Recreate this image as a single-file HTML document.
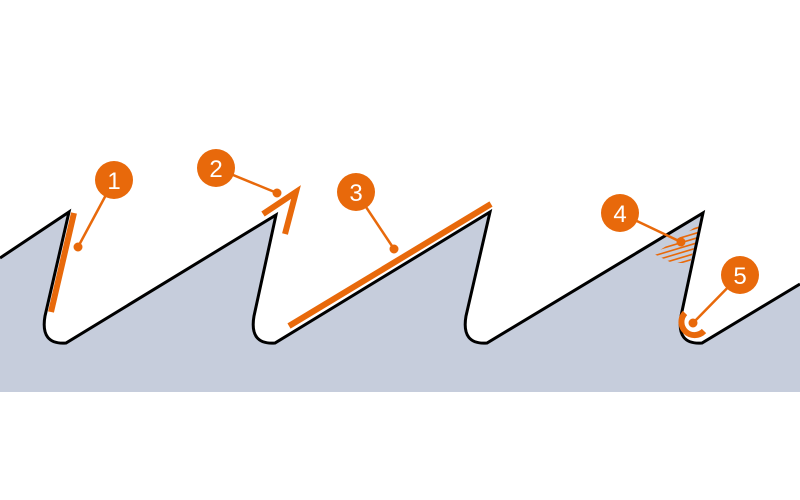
<!DOCTYPE html>
<html><head><meta charset="utf-8"><style>
html,body{margin:0;padding:0;background:#fff;width:800px;height:500px;overflow:hidden}
svg{display:block}
text{font-family:"Liberation Sans","DejaVu Sans",sans-serif;font-size:24px;fill:#fff;text-anchor:middle}
</style></head><body>
<svg width="800" height="500" viewBox="0 0 800 500">
<defs><clipPath id="c4"><polygon points="654,254 700,224 690,263 672,263"/></clipPath></defs>
<path d="M0,258 L69,212 L45,316 Q40,345 66,343 L276,215 L254,316 Q249,345 275,343 L490,212 L466,316 Q461,345 487,343 L703,213 L681,316 Q676,345 702,343 L800,284 L800,392 L0,392 Z" fill="#c6cddc"/>
<g stroke="#e8690b" fill="#e8690b">
<g clip-path="url(#c4)" stroke-width="1.6">
<line x1="640" y1="240" x2="720" y2="216"/><line x1="640" y1="245" x2="720" y2="221"/><line x1="640" y1="250" x2="720" y2="226"/><line x1="640" y1="255" x2="720" y2="231"/><line x1="640" y1="260" x2="720" y2="236"/><line x1="640" y1="265" x2="720" y2="241"/><line x1="640" y1="270" x2="720" y2="246"/><line x1="640" y1="275" x2="720" y2="251"/><line x1="640" y1="280" x2="720" y2="256"/><line x1="640" y1="285" x2="720" y2="261"/><line x1="640" y1="290" x2="720" y2="266"/>
</g>
</g>
<path d="M0,258 L69,212 L45,316 Q40,345 66,343 L276,215 L254,316 Q249,345 275,343 L490,212 L466,316 Q461,345 487,343 L703,213 L681,316 Q676,345 702,343 L800,284" fill="none" stroke="#000" stroke-width="3" stroke-linejoin="miter"/>
<g stroke="#e8690b" fill="#e8690b">
<line x1="74" y1="213" x2="51" y2="312" stroke-width="6"/>
<line x1="114" y1="180" x2="78" y2="247" stroke-width="2.5"/><circle cx="78" cy="247" r="4"/>
<polyline points="263,214 296,192 285,234" fill="none" stroke-width="6"/>
<line x1="216" y1="168" x2="277" y2="193" stroke-width="2.5"/><circle cx="277" cy="193" r="4"/>
<line x1="289" y1="326" x2="491" y2="204" stroke-width="6"/>
<line x1="356" y1="192" x2="394" y2="249" stroke-width="2.5"/><circle cx="394" cy="249" r="4"/>
<line x1="620" y1="213" x2="681" y2="242" stroke-width="2.5"/><circle cx="681" cy="242" r="4"/>
<path d="M685,313 A11,11 0 0 0 704,331" fill="none" stroke-width="6"/>
<line x1="740" y1="275" x2="693" y2="323" stroke-width="2.5"/><circle cx="693" cy="323" r="4"/>
</g>
<g fill="#e8690b">
<circle cx="114" cy="180" r="19"/><circle cx="216" cy="168" r="19"/><circle cx="356" cy="192" r="19"/><circle cx="620" cy="213" r="19"/><circle cx="740" cy="275" r="19"/>
</g>
<text x="114" y="189">1</text><text x="216" y="177">2</text><text x="356" y="201">3</text><text x="620" y="222">4</text><text x="740" y="284">5</text>
</svg>
</body></html>
